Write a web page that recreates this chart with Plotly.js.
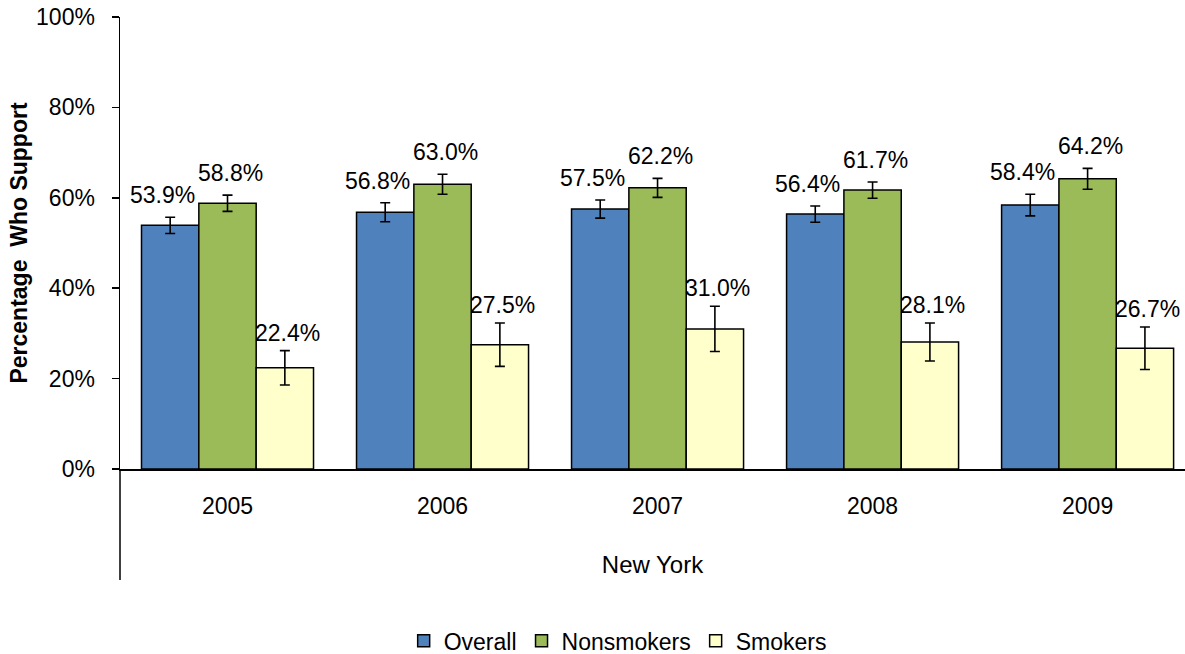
<!DOCTYPE html>
<html>
<head>
<meta charset="utf-8">
<script src="https://cdn.plot.ly/plotly-3.0.1.min.js"></script>
<style>html,body{margin:0;padding:0;background:#fff;overflow:hidden;}#chart{width:1185px;height:654px;}</style>
</head>
<body>
<div id="chart"></div>
<script>
const years = ['2005', '2006', '2007', '2008', '2009'];
const overall = [53.9, 56.8, 57.5, 56.4, 58.4];
const overallErr = [1.8, 2.1, 2.0, 1.8, 2.4];
const nonsmokers = [58.8, 63.0, 62.2, 61.7, 64.2];
const nonsmokersErr = [1.8, 2.2, 2.1, 1.8, 2.3];
const smokers = [22.4, 27.5, 31.0, 28.1, 26.7];
const smokersErr = [3.8, 4.8, 5.0, 4.2, 4.7];
const yTicks = [0, 20, 40, 60, 80, 100];

const FONT = 'Liberation Sans, Arial, sans-serif';
const FS = 23;

const series = [
  {name: 'Overall', y: overall, err: overallErr, color: '#4F81BD', dx: -57 - 8, dy: 22},
  {name: 'Nonsmokers', y: nonsmokers, err: nonsmokersErr, color: '#9BBB59', dx: 3, dy: 22},
  {name: 'Smokers', y: smokers, err: smokersErr, color: '#FFFFCC', dx: 57 + 3, dy: 18}
];

const traces = series.map(s => ({
  type: 'bar', name: s.name, x: years, y: s.y,
  marker: {color: s.color, line: {color: '#000', width: 1.5}},
  error_y: {type: 'data', array: s.err, visible: true, color: '#000', thickness: 1.6, width: 5},
  hoverinfo: 'skip'
}));

const annotations = [];
series.forEach(s => {
  s.y.forEach((v, i) => {
    annotations.push({
      x: i, y: v + s.err[i], xref: 'x', yref: 'y', text: v.toFixed(1) + '%',
      showarrow: false, xanchor: 'center', yanchor: 'middle',
      xshift: s.dx, yshift: s.dy,
      font: {family: FONT, size: FS, color: '#000'}
    });
  });
});

const layout = {
  width: 1185, height: 654,
  margin: {l: 120, r: 0, t: 17, b: 185, pad: 0, autoexpand: false},
  paper_bgcolor: '#fff', plot_bgcolor: '#fff',
  barmode: 'group', bargap: 0.2, bargroupgap: 0,
  showlegend: true,
  legend: {orientation: 'h', x: 0.4673, xanchor: 'center', y: -0.38, yanchor: 'middle',
    font: {family: FONT, size: FS, color: '#000'}, itemwidth: 30, traceorder: 'normal'},
  xaxis: {
    type: 'category', range: [-0.5, 4.453], showline: true, linecolor: '#000', linewidth: 1.5,
    ticks: '', showgrid: false, zeroline: false, ticklabelstandoff: 16,
    tickfont: {family: FONT, size: FS, color: '#000'},
    title: {text: 'New York', font: {family: FONT, size: 24, color: '#000'}, standoff: 38},
    automargin: false, fixedrange: true
  },
  yaxis: {
    range: [0, 100], tickvals: yTicks, ticktext: yTicks.map(t => t + '%'),
    showline: true, linecolor: '#000', linewidth: 1.5, ticks: 'outside', ticklen: 7, tickwidth: 1.5, tickcolor: '#000',
    showgrid: false, zeroline: false, ticklabelstandoff: 12,
    tickfont: {family: FONT, size: FS, color: '#000'},
    title: {text: '<b>Percentage  Who Support</b>', font: {family: FONT, size: 23, color: '#000'}, standoff: 2},
    automargin: false, fixedrange: true
  },
  shapes: [
    {type: 'line', xref: 'paper', yref: 'paper', x0: 0, x1: 0, y0: 0, y1: -0.2456,
      line: {color: '#000', width: 1.5}}
  ],
  annotations: annotations
};

Plotly.newPlot('chart', traces, layout, {staticPlot: true, displayModeBar: false});
</script>
</body>
</html>
